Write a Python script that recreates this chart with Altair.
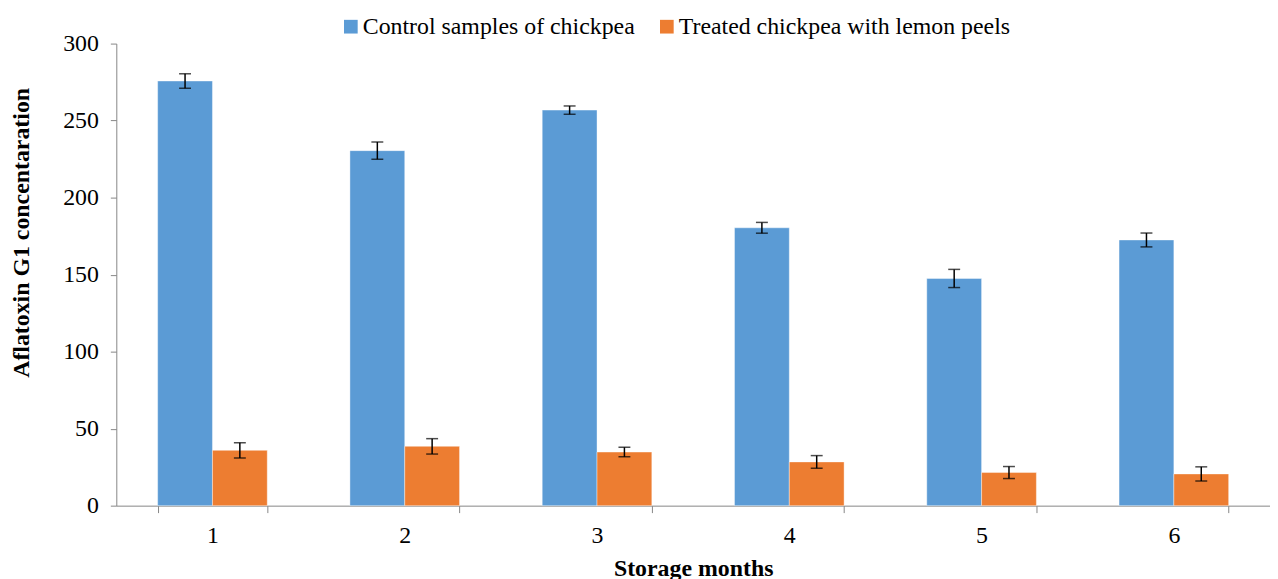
import altair as alt
import pandas as pd

months = ["1", "2", "3", "4", "5", "6"]
groups = ["Control samples of chickpea", "Treated chickpea with lemon peels"]
control = [275.7, 230.5, 256.8, 180.4, 147.5, 172.5]
control_err = [4.7, 5.6, 2.7, 3.5, 5.9, 4.5]
treated = [35.9, 38.5, 34.8, 28.4, 21.5, 20.6]
treated_err = [4.9, 5.0, 3.1, 4.1, 3.9, 4.6]
colors = ["#5B9BD5", "#ED7D31"]

rows = []
for i, m in enumerate(months):
    rows.append(dict(month=m, group=groups[0], value=control[i], err=control_err[i]))
    rows.append(dict(month=m, group=groups[1], value=treated[i], err=treated_err[i]))
df = pd.DataFrame(rows)
df["lo"] = df["value"] - df["err"]
df["hi"] = df["value"] + df["err"]

FONT = "Times New Roman, Liberation Serif, serif"
YTITLE = "Aflatoxin G1 concentaration"
FS = 24

x_enc = alt.X(
    "month:N", sort=months, title="Storage months",
    scale=alt.Scale(paddingInner=0.43, paddingOuter=0.215),
    axis=alt.Axis(labelAngle=0, tickBand="extent", tickSize=7, labelPadding=11,
                  titlePadding=9, domainColor="#868686", tickColor="#868686"),
)
xo_enc = alt.XOffset("group:N", sort=groups, scale=alt.Scale(paddingInner=0, paddingOuter=0))
y_scale = alt.Scale(domain=[0, 300], nice=False, zero=True)

base = alt.Chart(df).encode(x=x_enc, xOffset=xo_enc)

bars = base.mark_bar(stroke="white", strokeWidth=0.8, strokeOpacity=0.5).encode(
    y=alt.Y("value:Q", scale=y_scale, title=YTITLE,
            axis=alt.Axis(values=[0, 50, 100, 150, 200, 250, 300], tickSize=6,
                          labelPadding=12, titleX=-95, titleY=190,
                          titleBaseline="middle", titleAlign="center",
                          domainColor="#868686", tickColor="#868686")),
    color=alt.Color("group:N", sort=groups,
                    scale=alt.Scale(domain=groups, range=colors),
                    legend=alt.Legend(orient="none", legendX=224, legendY=-29,
                                      direction="horizontal", columns=2, title=None,
                                      symbolType="square", symbolSize=190,
                                      symbolStrokeWidth=0, labelFontSize=FS,
                                      labelFont=FONT, labelColor="black",
                                      labelLimit=0,
                                      columnPadding=20, labelOffset=0)),
)
rules = base.mark_rule(color="black", strokeWidth=1.5).encode(
    y=alt.Y("lo:Q", scale=y_scale, title=YTITLE), y2="hi:Q")
caps_lo = base.mark_tick(color="black", thickness=1.5, size=12).encode(
    y=alt.Y("lo:Q", scale=y_scale, title=YTITLE))
caps_hi = base.mark_tick(color="black", thickness=1.5, size=12).encode(
    y=alt.Y("hi:Q", scale=y_scale, title=YTITLE))

chart = alt.layer(bars, rules, caps_lo, caps_hi).properties(
    width=1161, height=465,
    padding={"left": 109, "top": 34, "right": 0, "bottom": 72},
    autosize=alt.AutoSizeParams(type="none"),
).configure_view(stroke=None).configure_axis(
    grid=False, labelFont=FONT, titleFont=FONT, labelFontSize=FS,
    titleFontSize=FS, labelColor="black", titleColor="black",
    titleFontWeight="bold", domainWidth=1, tickWidth=1,
).configure_legend(labelFont=FONT, labelFontSize=FS, labelLimit=0)

chart.save("out.html", embed_options={"renderer": "svg", "actions": False})
